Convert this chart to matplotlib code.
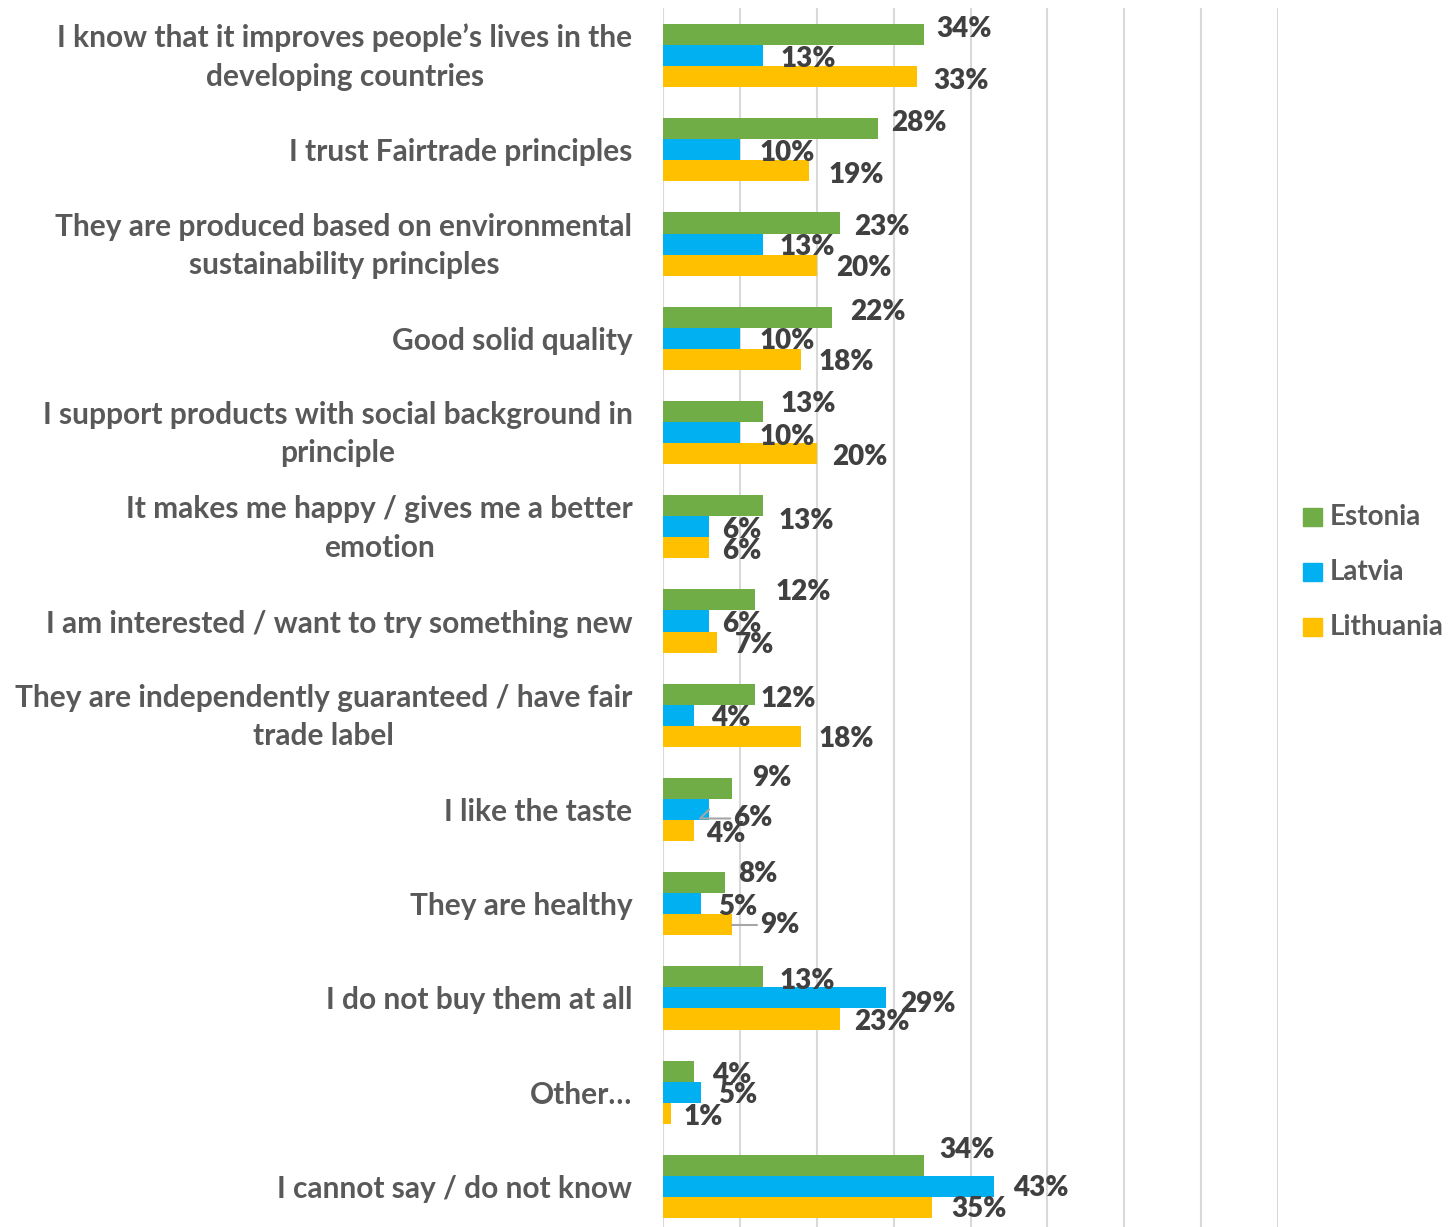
import numpy as np
import matplotlib
matplotlib.use("Agg")
import matplotlib.pyplot as plt
from matplotlib.patches import Rectangle
from matplotlib.transforms import ScaledTranslation

plt.rcParams['font.family'] = ['Lato', 'DejaVu Sans']

# reasons for buying fair trade products, share of respondents
categories = [
    "I know that it improves people\u2019s lives in the\ndeveloping countries",
    "I trust Fairtrade principles",
    "They are produced based on environmental\nsustainability principles",
    "Good solid quality",
    "I support products with social background in\nprinciple",
    "It makes me happy / gives me a better\nemotion",
    "I am interested / want to try something new",
    "They are independently guaranteed / have fair\ntrade label",
    "I like the taste",
    "They are healthy",
    "I do not buy them at all",
    "Other\u2026",
    "I cannot say / do not know",
]
estonia = [34, 28, 23, 22, 13, 13, 12, 12, 9, 8, 13, 4, 34]
latvia = [13, 10, 13, 10, 10, 6, 6, 4, 6, 5, 29, 5, 43]
lithuania = [33, 19, 20, 18, 20, 6, 7, 18, 4, 9, 23, 1, 35]

series = [("Estonia", estonia, "#70AD47"),
          ("Latvia", latvia, "#00B0F0"),
          ("Lithuania", lithuania, "#FFC000")]

# label nudges in pixels (dx, dy), one row per category, columns per series
label_shift = [
    [(12, -10), (18, -1), (17, 0)],
    [(13, -10), (20, -1), (19, 0)],
    [(14, 0), (17, -1), (19, -1)],
    [(18, -9), (20, -1), (17, -1)],
    [(18, -11), (20, 0), (15, -1)],
    [(16, 11), (13, -1), (13, -1)],
    [(20, -12), (13, -1), (18, -1)],
    [(5, 1), (17, -1), (17, -1)],
    [(20, -14), (24, 5), (12, -1)],
    [(14, -13), (17, -1), (28, -4)],
    [(17, 0), (14, 2), (14, -1)],
    [(18, 0), (17, -1), (13, 0)],
    [(15, -19), (20, -2), (19, -2)],
]
leaders = {(8, 1), (9, 2)}
label_drop = 4  # px, text box centre sits a little high

W, H = 1455, 1227
fig = plt.figure(figsize=(W / 100, H / 100), dpi=100)
ax = fig.add_axes([663 / W, (1227 - 1233.6) / H, (1278 - 663) / W, 1225.2 / H])

n = len(categories)
y = np.arange(n)
bar_h = 0.223

for k, (name, vals, col) in enumerate(series):
    ax.barh(y + (k - 1) * bar_h, vals, height=bar_h, color=col, zorder=3)

ax.set_xlim(0, 80)
ax.set_ylim(n - 0.5, -0.5)
ax.set_xticks(np.arange(0, 81, 10))
ax.xaxis.grid(True, color="#D9D9D9", linewidth=1.5, zorder=0)
ax.tick_params(axis="x", length=0, labelbottom=False)
ax.tick_params(axis="y", length=0)
for s in ax.spines.values():
    s.set_visible(False)

ax.set_yticks(y)
ax.set_yticklabels(categories, fontsize=21.5, fontweight="bold",
                   color="#595959", linespacing=1.45,
                   multialignment="center")
ax.tick_params(axis="y", pad=22)
# two-line labels come out a bit low, lift them
for lab in ax.get_yticklabels():
    if "\n" in lab.get_text():
        lab.set_transform(lab.get_transform() +
                          ScaledTranslation(0, 6 / 100, fig.dpi_scale_trans))

px = 72 / 100  # points per pixel
for i in range(n):
    for k, (name, vals, col) in enumerate(series):
        v = vals[i]
        dx, dy = label_shift[i][k]
        dy += label_drop
        yy = y[i] + (k - 1) * bar_h
        ax.annotate(f"{v}%", xy=(v, yy), xytext=(dx * px, -dy * px),
                    textcoords="offset points", ha="left", va="center",
                    fontsize=20, fontweight="heavy", color="#404040",
                    zorder=5)
        if (i, k) in leaders:
            ax.annotate("", xy=(v, yy), xytext=(dx * px - 2, -dy * px),
                        textcoords="offset points",
                        arrowprops=dict(arrowstyle="-", color="#A6A6A6",
                                        lw=1.5, shrinkA=0, shrinkB=0,
                                        connectionstyle="angle,angleA=0,angleB=45,rad=0"),
                        zorder=4)

# legend on the right
for k, (name, vals, col) in enumerate(series):
    yc = 517 + 55 * k
    fig.patches.append(Rectangle(((1303) / W, 1 - (yc + 9) / H), 19 / W, 18 / H,
                                 transform=fig.transFigure, color=col,
                                 figure=fig))
    fig.text(1330 / W, 1 - yc / H, name, fontsize=20, fontweight="bold",
             color="#595959", va="center", ha="left")

fig.savefig("out.png", dpi=100)
